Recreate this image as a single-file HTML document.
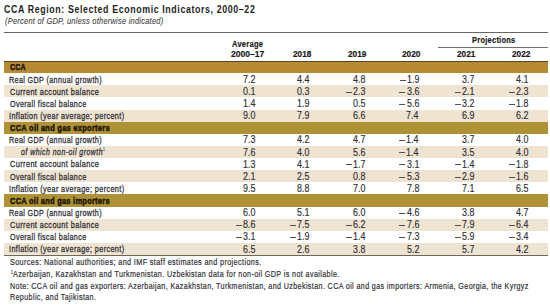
<!DOCTYPE html>
<html><head><meta charset="utf-8"><style>
html,body{margin:0;padding:0;background:#fff;width:550px;height:306px;overflow:hidden;position:relative}
.t{position:absolute;white-space:nowrap;line-height:1;font-family:"Liberation Sans",sans-serif;transform-origin:0 0}
.r{position:absolute}
</style></head><body>
<div class="t" style="left:4.35px;top:3.52px;font-size:11.2px;font-weight:bold;font-style:normal;color:#1e1e1e;letter-spacing:0.8px;-webkit-text-stroke:0px #1e1e1e;transform:scaleX(0.7861);">CCA Region: Selected Economic Indicators, 2000–22</div>
<div class="t" style="left:4.56px;top:16.27px;font-size:9.6px;font-weight:normal;font-style:italic;color:#3c3c3c;letter-spacing:0.3px;-webkit-text-stroke:0.1px #3c3c3c;transform:scaleX(0.7789);">(Percent of GDP, unless otherwise indicated)</div>
<div class="r" style="left:4px;top:32px;width:544px;height:1px;background:#666"></div>
<div class="t" style="left:232.06px;top:39.00px;font-size:9.8px;font-weight:bold;font-style:normal;color:#1a1a1a;letter-spacing:0.3px;-webkit-text-stroke:0.2px #1a1a1a;transform:scaleX(0.7716);">Average</div>
<div class="t" style="left:230.95px;top:49.40px;font-size:9.8px;font-weight:bold;font-style:normal;color:#1a1a1a;letter-spacing:0px;-webkit-text-stroke:0.2px #1a1a1a;transform:scaleX(0.8704);">2000–17</div>
<div class="t" style="left:293.31px;top:49.40px;font-size:9.8px;font-weight:bold;font-style:normal;color:#1a1a1a;letter-spacing:0px;-webkit-text-stroke:0.2px #1a1a1a;transform:scaleX(0.8409);">2018</div>
<div class="t" style="left:348.01px;top:49.40px;font-size:9.8px;font-weight:bold;font-style:normal;color:#1a1a1a;letter-spacing:0px;-webkit-text-stroke:0.2px #1a1a1a;transform:scaleX(0.8428);">2019</div>
<div class="t" style="left:402.31px;top:49.40px;font-size:9.8px;font-weight:bold;font-style:normal;color:#1a1a1a;letter-spacing:0px;-webkit-text-stroke:0.2px #1a1a1a;transform:scaleX(0.8448);">2020</div>
<div class="t" style="left:456.81px;top:49.40px;font-size:9.8px;font-weight:bold;font-style:normal;color:#1a1a1a;letter-spacing:0px;-webkit-text-stroke:0.2px #1a1a1a;transform:scaleX(0.8389);">2021</div>
<div class="t" style="left:512.01px;top:49.40px;font-size:9.8px;font-weight:bold;font-style:normal;color:#1a1a1a;letter-spacing:0px;-webkit-text-stroke:0.2px #1a1a1a;transform:scaleX(0.8448);">2022</div>
<div class="t" style="left:471.76px;top:34.90px;font-size:9.8px;font-weight:bold;font-style:normal;color:#1a1a1a;letter-spacing:0.3px;-webkit-text-stroke:0.2px #1a1a1a;transform:scaleX(0.7681);">Projections</div>
<div class="r" style="left:438px;top:47px;width:110px;height:1px;background:#707070"></div>
<div class="r" style="left:4px;top:61.0px;width:544px;height:12.125px;background:#b68b34"></div>
<div class="r" style="left:4px;top:61.0px;width:544px;height:1px;background:#554626"></div>
<div class="t" style="left:9.72px;top:62.40px;font-size:9.8px;font-weight:bold;font-style:normal;color:#1e1608;letter-spacing:0.3px;-webkit-text-stroke:0.5px #1e1608;transform:scaleX(0.7177);">CCA</div>
<div class="t" style="left:9.43px;top:74.53px;font-size:9.8px;font-weight:normal;font-style:normal;color:#303036;letter-spacing:0.5px;-webkit-text-stroke:0.3px #303036;transform:scaleX(0.7330);">Real GDP (annual growth)</div>
<div class="t" style="left:243.37px;top:74.86px;font-size:10.0px;font-weight:normal;font-style:normal;color:#303036;letter-spacing:0.0px;-webkit-text-stroke:0.15px #303036;transform:scaleX(0.8906);">7.2</div>
<div class="t" style="left:297.29px;top:74.86px;font-size:10.0px;font-weight:normal;font-style:normal;color:#303036;letter-spacing:0.0px;-webkit-text-stroke:0.15px #303036;transform:scaleX(0.8906);">4.4</div>
<div class="t" style="left:352.78px;top:74.86px;font-size:10.0px;font-weight:normal;font-style:normal;color:#303036;letter-spacing:0.0px;-webkit-text-stroke:0.15px #303036;transform:scaleX(0.8906);">4.8</div>
<div class="t" style="left:406.62px;top:74.86px;font-size:10.0px;font-weight:normal;font-style:normal;color:#303036;letter-spacing:0.0px;-webkit-text-stroke:0.15px #303036;transform:scaleX(0.8906);">1.9</div>
<div class="r" style="left:400px;top:80px;width:6px;height:1px;background:#505056"></div>
<div class="t" style="left:462.07px;top:74.86px;font-size:10.0px;font-weight:normal;font-style:normal;color:#303036;letter-spacing:0.0px;-webkit-text-stroke:0.15px #303036;transform:scaleX(0.8906);">3.7</div>
<div class="t" style="left:516.07px;top:74.86px;font-size:10.0px;font-weight:normal;font-style:normal;color:#303036;letter-spacing:0.0px;-webkit-text-stroke:0.15px #303036;transform:scaleX(0.8906);">4.1</div>
<div class="r" style="left:4px;top:85.25px;width:544px;height:12.125px;background:#efe4d2"></div>
<div class="t" style="left:9.63px;top:86.65px;font-size:9.8px;font-weight:normal;font-style:normal;color:#303036;letter-spacing:0.5px;-webkit-text-stroke:0.3px #303036;transform:scaleX(0.7549);">Current account balance</div>
<div class="t" style="left:243.37px;top:86.98px;font-size:10.0px;font-weight:normal;font-style:normal;color:#303036;letter-spacing:0.0px;-webkit-text-stroke:0.15px #303036;transform:scaleX(0.8906);">0.1</div>
<div class="t" style="left:297.42px;top:86.98px;font-size:10.0px;font-weight:normal;font-style:normal;color:#303036;letter-spacing:0.0px;-webkit-text-stroke:0.15px #303036;transform:scaleX(0.8906);">0.3</div>
<div class="t" style="left:352.82px;top:86.98px;font-size:10.0px;font-weight:normal;font-style:normal;color:#303036;letter-spacing:0.0px;-webkit-text-stroke:0.15px #303036;transform:scaleX(0.8906);">2.3</div>
<div class="r" style="left:346px;top:92px;width:6px;height:1px;background:#505056"></div>
<div class="t" style="left:406.62px;top:86.98px;font-size:10.0px;font-weight:normal;font-style:normal;color:#303036;letter-spacing:0.0px;-webkit-text-stroke:0.15px #303036;transform:scaleX(0.8906);">3.6</div>
<div class="r" style="left:399px;top:92px;width:6px;height:1px;background:#505056"></div>
<div class="t" style="left:462.07px;top:86.98px;font-size:10.0px;font-weight:normal;font-style:normal;color:#303036;letter-spacing:0.0px;-webkit-text-stroke:0.15px #303036;transform:scaleX(0.8906);">2.1</div>
<div class="r" style="left:455px;top:92px;width:6px;height:1px;background:#505056"></div>
<div class="t" style="left:516.02px;top:86.98px;font-size:10.0px;font-weight:normal;font-style:normal;color:#303036;letter-spacing:0.0px;-webkit-text-stroke:0.15px #303036;transform:scaleX(0.8906);">2.3</div>
<div class="r" style="left:509px;top:92px;width:6px;height:1px;background:#505056"></div>
<div class="t" style="left:9.68px;top:98.78px;font-size:9.8px;font-weight:normal;font-style:normal;color:#303036;letter-spacing:0.5px;-webkit-text-stroke:0.3px #303036;transform:scaleX(0.7356);">Overall fiscal balance</div>
<div class="t" style="left:243.19px;top:99.11px;font-size:10.0px;font-weight:normal;font-style:normal;color:#303036;letter-spacing:0.0px;-webkit-text-stroke:0.15px #303036;transform:scaleX(0.8906);">1.4</div>
<div class="t" style="left:297.42px;top:99.11px;font-size:10.0px;font-weight:normal;font-style:normal;color:#303036;letter-spacing:0.0px;-webkit-text-stroke:0.15px #303036;transform:scaleX(0.8906);">1.9</div>
<div class="t" style="left:352.78px;top:99.11px;font-size:10.0px;font-weight:normal;font-style:normal;color:#303036;letter-spacing:0.0px;-webkit-text-stroke:0.15px #303036;transform:scaleX(0.8906);">0.5</div>
<div class="t" style="left:406.62px;top:99.11px;font-size:10.0px;font-weight:normal;font-style:normal;color:#303036;letter-spacing:0.0px;-webkit-text-stroke:0.15px #303036;transform:scaleX(0.8906);">5.6</div>
<div class="r" style="left:399px;top:104px;width:6px;height:1px;background:#505056"></div>
<div class="t" style="left:462.07px;top:99.11px;font-size:10.0px;font-weight:normal;font-style:normal;color:#303036;letter-spacing:0.0px;-webkit-text-stroke:0.15px #303036;transform:scaleX(0.8906);">3.2</div>
<div class="r" style="left:455px;top:104px;width:6px;height:1px;background:#505056"></div>
<div class="t" style="left:515.98px;top:99.11px;font-size:10.0px;font-weight:normal;font-style:normal;color:#303036;letter-spacing:0.0px;-webkit-text-stroke:0.15px #303036;transform:scaleX(0.8906);">1.8</div>
<div class="r" style="left:509px;top:104px;width:6px;height:1px;background:#505056"></div>
<div class="r" style="left:4px;top:109.5px;width:544px;height:12.125px;background:#efe4d2"></div>
<div class="t" style="left:9.34px;top:110.90px;font-size:9.8px;font-weight:normal;font-style:normal;color:#303036;letter-spacing:0.5px;-webkit-text-stroke:0.3px #303036;transform:scaleX(0.7432);">Inflation (year average; percent)</div>
<div class="t" style="left:243.28px;top:111.23px;font-size:10.0px;font-weight:normal;font-style:normal;color:#303036;letter-spacing:0.0px;-webkit-text-stroke:0.15px #303036;transform:scaleX(0.8906);">9.0</div>
<div class="t" style="left:297.42px;top:111.23px;font-size:10.0px;font-weight:normal;font-style:normal;color:#303036;letter-spacing:0.0px;-webkit-text-stroke:0.15px #303036;transform:scaleX(0.8906);">7.9</div>
<div class="t" style="left:352.82px;top:111.23px;font-size:10.0px;font-weight:normal;font-style:normal;color:#303036;letter-spacing:0.0px;-webkit-text-stroke:0.15px #303036;transform:scaleX(0.8906);">6.6</div>
<div class="t" style="left:406.49px;top:111.23px;font-size:10.0px;font-weight:normal;font-style:normal;color:#303036;letter-spacing:0.0px;-webkit-text-stroke:0.15px #303036;transform:scaleX(0.8906);">7.4</div>
<div class="t" style="left:462.02px;top:111.23px;font-size:10.0px;font-weight:normal;font-style:normal;color:#303036;letter-spacing:0.0px;-webkit-text-stroke:0.15px #303036;transform:scaleX(0.8906);">6.9</div>
<div class="t" style="left:516.07px;top:111.23px;font-size:10.0px;font-weight:normal;font-style:normal;color:#303036;letter-spacing:0.0px;-webkit-text-stroke:0.15px #303036;transform:scaleX(0.8906);">6.2</div>
<div class="r" style="left:4px;top:121.625px;width:544px;height:12.125px;background:#af9236"></div>
<div class="t" style="left:9.70px;top:123.03px;font-size:9.8px;font-weight:bold;font-style:normal;color:#1e1608;letter-spacing:0.3px;-webkit-text-stroke:0.5px #1e1608;transform:scaleX(0.7700);">CCA oil and gas exporters</div>
<div class="t" style="left:9.43px;top:135.15px;font-size:9.8px;font-weight:normal;font-style:normal;color:#303036;letter-spacing:0.5px;-webkit-text-stroke:0.3px #303036;transform:scaleX(0.7330);">Real GDP (annual growth)</div>
<div class="t" style="left:243.32px;top:135.48px;font-size:10.0px;font-weight:normal;font-style:normal;color:#303036;letter-spacing:0.0px;-webkit-text-stroke:0.15px #303036;transform:scaleX(0.8906);">7.3</div>
<div class="t" style="left:297.47px;top:135.48px;font-size:10.0px;font-weight:normal;font-style:normal;color:#303036;letter-spacing:0.0px;-webkit-text-stroke:0.15px #303036;transform:scaleX(0.8906);">4.2</div>
<div class="t" style="left:352.87px;top:135.48px;font-size:10.0px;font-weight:normal;font-style:normal;color:#303036;letter-spacing:0.0px;-webkit-text-stroke:0.15px #303036;transform:scaleX(0.8906);">4.7</div>
<div class="t" style="left:406.49px;top:135.48px;font-size:10.0px;font-weight:normal;font-style:normal;color:#303036;letter-spacing:0.0px;-webkit-text-stroke:0.15px #303036;transform:scaleX(0.8906);">1.4</div>
<div class="r" style="left:399px;top:140px;width:6px;height:1px;background:#505056"></div>
<div class="t" style="left:462.07px;top:135.48px;font-size:10.0px;font-weight:normal;font-style:normal;color:#303036;letter-spacing:0.0px;-webkit-text-stroke:0.15px #303036;transform:scaleX(0.8906);">3.7</div>
<div class="t" style="left:515.98px;top:135.48px;font-size:10.0px;font-weight:normal;font-style:normal;color:#303036;letter-spacing:0.0px;-webkit-text-stroke:0.15px #303036;transform:scaleX(0.8906);">4.0</div>
<div class="r" style="left:4px;top:145.875px;width:544px;height:12.125px;background:#efe4d2"></div>
<div class="t" style="left:20.76px;top:147.28px;font-size:9.8px;font-weight:normal;font-style:italic;color:#303036;letter-spacing:0.65px;-webkit-text-stroke:0.3px #303036;transform:scaleX(0.7123);">of which non-oil growth</div>
<div class="t" style="left:103.06px;top:147.37px;font-size:5.2px;font-weight:normal;font-style:normal;color:#303036;letter-spacing:0px;-webkit-text-stroke:0.1px #303036;transform:scaleX(0.6261);">1</div>
<div class="t" style="left:243.32px;top:147.61px;font-size:10.0px;font-weight:normal;font-style:normal;color:#303036;letter-spacing:0.0px;-webkit-text-stroke:0.15px #303036;transform:scaleX(0.8906);">7.6</div>
<div class="t" style="left:297.38px;top:147.61px;font-size:10.0px;font-weight:normal;font-style:normal;color:#303036;letter-spacing:0.0px;-webkit-text-stroke:0.15px #303036;transform:scaleX(0.8906);">4.0</div>
<div class="t" style="left:352.82px;top:147.61px;font-size:10.0px;font-weight:normal;font-style:normal;color:#303036;letter-spacing:0.0px;-webkit-text-stroke:0.15px #303036;transform:scaleX(0.8906);">5.6</div>
<div class="t" style="left:406.49px;top:147.61px;font-size:10.0px;font-weight:normal;font-style:normal;color:#303036;letter-spacing:0.0px;-webkit-text-stroke:0.15px #303036;transform:scaleX(0.8906);">1.4</div>
<div class="r" style="left:399px;top:152px;width:6px;height:1px;background:#505056"></div>
<div class="t" style="left:461.98px;top:147.61px;font-size:10.0px;font-weight:normal;font-style:normal;color:#303036;letter-spacing:0.0px;-webkit-text-stroke:0.15px #303036;transform:scaleX(0.8906);">3.5</div>
<div class="t" style="left:515.98px;top:147.61px;font-size:10.0px;font-weight:normal;font-style:normal;color:#303036;letter-spacing:0.0px;-webkit-text-stroke:0.15px #303036;transform:scaleX(0.8906);">4.0</div>
<div class="t" style="left:9.63px;top:159.40px;font-size:9.8px;font-weight:normal;font-style:normal;color:#303036;letter-spacing:0.5px;-webkit-text-stroke:0.3px #303036;transform:scaleX(0.7549);">Current account balance</div>
<div class="t" style="left:243.32px;top:159.73px;font-size:10.0px;font-weight:normal;font-style:normal;color:#303036;letter-spacing:0.0px;-webkit-text-stroke:0.15px #303036;transform:scaleX(0.8906);">1.3</div>
<div class="t" style="left:297.47px;top:159.73px;font-size:10.0px;font-weight:normal;font-style:normal;color:#303036;letter-spacing:0.0px;-webkit-text-stroke:0.15px #303036;transform:scaleX(0.8906);">4.1</div>
<div class="t" style="left:352.87px;top:159.73px;font-size:10.0px;font-weight:normal;font-style:normal;color:#303036;letter-spacing:0.0px;-webkit-text-stroke:0.15px #303036;transform:scaleX(0.8906);">1.7</div>
<div class="r" style="left:346px;top:164px;width:6px;height:1px;background:#505056"></div>
<div class="t" style="left:406.67px;top:159.73px;font-size:10.0px;font-weight:normal;font-style:normal;color:#303036;letter-spacing:0.0px;-webkit-text-stroke:0.15px #303036;transform:scaleX(0.8906);">3.1</div>
<div class="r" style="left:399px;top:164px;width:6px;height:1px;background:#505056"></div>
<div class="t" style="left:461.89px;top:159.73px;font-size:10.0px;font-weight:normal;font-style:normal;color:#303036;letter-spacing:0.0px;-webkit-text-stroke:0.15px #303036;transform:scaleX(0.8906);">1.4</div>
<div class="r" style="left:455px;top:164px;width:6px;height:1px;background:#505056"></div>
<div class="t" style="left:515.98px;top:159.73px;font-size:10.0px;font-weight:normal;font-style:normal;color:#303036;letter-spacing:0.0px;-webkit-text-stroke:0.15px #303036;transform:scaleX(0.8906);">1.8</div>
<div class="r" style="left:509px;top:164px;width:6px;height:1px;background:#505056"></div>
<div class="r" style="left:4px;top:170.125px;width:544px;height:12.125px;background:#efe4d2"></div>
<div class="t" style="left:9.68px;top:171.53px;font-size:9.8px;font-weight:normal;font-style:normal;color:#303036;letter-spacing:0.5px;-webkit-text-stroke:0.3px #303036;transform:scaleX(0.7356);">Overall fiscal balance</div>
<div class="t" style="left:243.37px;top:171.86px;font-size:10.0px;font-weight:normal;font-style:normal;color:#303036;letter-spacing:0.0px;-webkit-text-stroke:0.15px #303036;transform:scaleX(0.8906);">2.1</div>
<div class="t" style="left:297.38px;top:171.86px;font-size:10.0px;font-weight:normal;font-style:normal;color:#303036;letter-spacing:0.0px;-webkit-text-stroke:0.15px #303036;transform:scaleX(0.8906);">2.5</div>
<div class="t" style="left:352.78px;top:171.86px;font-size:10.0px;font-weight:normal;font-style:normal;color:#303036;letter-spacing:0.0px;-webkit-text-stroke:0.15px #303036;transform:scaleX(0.8906);">0.8</div>
<div class="t" style="left:406.62px;top:171.86px;font-size:10.0px;font-weight:normal;font-style:normal;color:#303036;letter-spacing:0.0px;-webkit-text-stroke:0.15px #303036;transform:scaleX(0.8906);">5.3</div>
<div class="r" style="left:399px;top:177px;width:6px;height:1px;background:#505056"></div>
<div class="t" style="left:462.02px;top:171.86px;font-size:10.0px;font-weight:normal;font-style:normal;color:#303036;letter-spacing:0.0px;-webkit-text-stroke:0.15px #303036;transform:scaleX(0.8906);">2.9</div>
<div class="r" style="left:455px;top:177px;width:6px;height:1px;background:#505056"></div>
<div class="t" style="left:516.02px;top:171.86px;font-size:10.0px;font-weight:normal;font-style:normal;color:#303036;letter-spacing:0.0px;-webkit-text-stroke:0.15px #303036;transform:scaleX(0.8906);">1.6</div>
<div class="r" style="left:509px;top:177px;width:6px;height:1px;background:#505056"></div>
<div class="t" style="left:9.34px;top:183.65px;font-size:9.8px;font-weight:normal;font-style:normal;color:#303036;letter-spacing:0.5px;-webkit-text-stroke:0.3px #303036;transform:scaleX(0.7432);">Inflation (year average; percent)</div>
<div class="t" style="left:243.28px;top:183.98px;font-size:10.0px;font-weight:normal;font-style:normal;color:#303036;letter-spacing:0.0px;-webkit-text-stroke:0.15px #303036;transform:scaleX(0.8906);">9.5</div>
<div class="t" style="left:297.38px;top:183.98px;font-size:10.0px;font-weight:normal;font-style:normal;color:#303036;letter-spacing:0.0px;-webkit-text-stroke:0.15px #303036;transform:scaleX(0.8906);">8.8</div>
<div class="t" style="left:352.78px;top:183.98px;font-size:10.0px;font-weight:normal;font-style:normal;color:#303036;letter-spacing:0.0px;-webkit-text-stroke:0.15px #303036;transform:scaleX(0.8906);">7.0</div>
<div class="t" style="left:406.58px;top:183.98px;font-size:10.0px;font-weight:normal;font-style:normal;color:#303036;letter-spacing:0.0px;-webkit-text-stroke:0.15px #303036;transform:scaleX(0.8906);">7.8</div>
<div class="t" style="left:462.07px;top:183.98px;font-size:10.0px;font-weight:normal;font-style:normal;color:#303036;letter-spacing:0.0px;-webkit-text-stroke:0.15px #303036;transform:scaleX(0.8906);">7.1</div>
<div class="t" style="left:515.98px;top:183.98px;font-size:10.0px;font-weight:normal;font-style:normal;color:#303036;letter-spacing:0.0px;-webkit-text-stroke:0.15px #303036;transform:scaleX(0.8906);">6.5</div>
<div class="r" style="left:4px;top:194.375px;width:544px;height:12.125px;background:#af9236"></div>
<div class="t" style="left:9.70px;top:195.78px;font-size:9.8px;font-weight:bold;font-style:normal;color:#1e1608;letter-spacing:0.3px;-webkit-text-stroke:0.5px #1e1608;transform:scaleX(0.7668);">CCA oil and gas importers</div>
<div class="t" style="left:9.43px;top:207.90px;font-size:9.8px;font-weight:normal;font-style:normal;color:#303036;letter-spacing:0.5px;-webkit-text-stroke:0.3px #303036;transform:scaleX(0.7330);">Real GDP (annual growth)</div>
<div class="t" style="left:243.28px;top:208.23px;font-size:10.0px;font-weight:normal;font-style:normal;color:#303036;letter-spacing:0.0px;-webkit-text-stroke:0.15px #303036;transform:scaleX(0.8906);">6.0</div>
<div class="t" style="left:297.47px;top:208.23px;font-size:10.0px;font-weight:normal;font-style:normal;color:#303036;letter-spacing:0.0px;-webkit-text-stroke:0.15px #303036;transform:scaleX(0.8906);">5.1</div>
<div class="t" style="left:352.78px;top:208.23px;font-size:10.0px;font-weight:normal;font-style:normal;color:#303036;letter-spacing:0.0px;-webkit-text-stroke:0.15px #303036;transform:scaleX(0.8906);">6.0</div>
<div class="t" style="left:406.62px;top:208.23px;font-size:10.0px;font-weight:normal;font-style:normal;color:#303036;letter-spacing:0.0px;-webkit-text-stroke:0.15px #303036;transform:scaleX(0.8906);">4.6</div>
<div class="r" style="left:399px;top:213px;width:6px;height:1px;background:#505056"></div>
<div class="t" style="left:461.98px;top:208.23px;font-size:10.0px;font-weight:normal;font-style:normal;color:#303036;letter-spacing:0.0px;-webkit-text-stroke:0.15px #303036;transform:scaleX(0.8906);">3.8</div>
<div class="t" style="left:516.07px;top:208.23px;font-size:10.0px;font-weight:normal;font-style:normal;color:#303036;letter-spacing:0.0px;-webkit-text-stroke:0.15px #303036;transform:scaleX(0.8906);">4.7</div>
<div class="r" style="left:4px;top:218.625px;width:544px;height:12.125px;background:#efe4d2"></div>
<div class="t" style="left:9.63px;top:220.03px;font-size:9.8px;font-weight:normal;font-style:normal;color:#303036;letter-spacing:0.5px;-webkit-text-stroke:0.3px #303036;transform:scaleX(0.7549);">Current account balance</div>
<div class="t" style="left:243.32px;top:220.36px;font-size:10.0px;font-weight:normal;font-style:normal;color:#303036;letter-spacing:0.0px;-webkit-text-stroke:0.15px #303036;transform:scaleX(0.8906);">8.6</div>
<div class="r" style="left:236px;top:225px;width:6px;height:1px;background:#505056"></div>
<div class="t" style="left:297.38px;top:220.36px;font-size:10.0px;font-weight:normal;font-style:normal;color:#303036;letter-spacing:0.0px;-webkit-text-stroke:0.15px #303036;transform:scaleX(0.8906);">7.5</div>
<div class="r" style="left:290px;top:225px;width:6px;height:1px;background:#505056"></div>
<div class="t" style="left:352.87px;top:220.36px;font-size:10.0px;font-weight:normal;font-style:normal;color:#303036;letter-spacing:0.0px;-webkit-text-stroke:0.15px #303036;transform:scaleX(0.8906);">6.2</div>
<div class="r" style="left:346px;top:225px;width:6px;height:1px;background:#505056"></div>
<div class="t" style="left:406.62px;top:220.36px;font-size:10.0px;font-weight:normal;font-style:normal;color:#303036;letter-spacing:0.0px;-webkit-text-stroke:0.15px #303036;transform:scaleX(0.8906);">7.6</div>
<div class="r" style="left:399px;top:225px;width:6px;height:1px;background:#505056"></div>
<div class="t" style="left:462.02px;top:220.36px;font-size:10.0px;font-weight:normal;font-style:normal;color:#303036;letter-spacing:0.0px;-webkit-text-stroke:0.15px #303036;transform:scaleX(0.8906);">7.9</div>
<div class="r" style="left:455px;top:225px;width:6px;height:1px;background:#505056"></div>
<div class="t" style="left:515.89px;top:220.36px;font-size:10.0px;font-weight:normal;font-style:normal;color:#303036;letter-spacing:0.0px;-webkit-text-stroke:0.15px #303036;transform:scaleX(0.8906);">6.4</div>
<div class="r" style="left:509px;top:225px;width:6px;height:1px;background:#505056"></div>
<div class="t" style="left:9.68px;top:232.15px;font-size:9.8px;font-weight:normal;font-style:normal;color:#303036;letter-spacing:0.5px;-webkit-text-stroke:0.3px #303036;transform:scaleX(0.7356);">Overall fiscal balance</div>
<div class="t" style="left:243.37px;top:232.48px;font-size:10.0px;font-weight:normal;font-style:normal;color:#303036;letter-spacing:0.0px;-webkit-text-stroke:0.15px #303036;transform:scaleX(0.8906);">3.1</div>
<div class="r" style="left:236px;top:237px;width:6px;height:1px;background:#505056"></div>
<div class="t" style="left:297.42px;top:232.48px;font-size:10.0px;font-weight:normal;font-style:normal;color:#303036;letter-spacing:0.0px;-webkit-text-stroke:0.15px #303036;transform:scaleX(0.8906);">1.9</div>
<div class="r" style="left:290px;top:237px;width:6px;height:1px;background:#505056"></div>
<div class="t" style="left:352.69px;top:232.48px;font-size:10.0px;font-weight:normal;font-style:normal;color:#303036;letter-spacing:0.0px;-webkit-text-stroke:0.15px #303036;transform:scaleX(0.8906);">1.4</div>
<div class="r" style="left:346px;top:237px;width:6px;height:1px;background:#505056"></div>
<div class="t" style="left:406.62px;top:232.48px;font-size:10.0px;font-weight:normal;font-style:normal;color:#303036;letter-spacing:0.0px;-webkit-text-stroke:0.15px #303036;transform:scaleX(0.8906);">7.3</div>
<div class="r" style="left:399px;top:237px;width:6px;height:1px;background:#505056"></div>
<div class="t" style="left:462.02px;top:232.48px;font-size:10.0px;font-weight:normal;font-style:normal;color:#303036;letter-spacing:0.0px;-webkit-text-stroke:0.15px #303036;transform:scaleX(0.8906);">5.9</div>
<div class="r" style="left:455px;top:237px;width:6px;height:1px;background:#505056"></div>
<div class="t" style="left:515.89px;top:232.48px;font-size:10.0px;font-weight:normal;font-style:normal;color:#303036;letter-spacing:0.0px;-webkit-text-stroke:0.15px #303036;transform:scaleX(0.8906);">3.4</div>
<div class="r" style="left:509px;top:237px;width:6px;height:1px;background:#505056"></div>
<div class="r" style="left:4px;top:242.875px;width:544px;height:12.125px;background:#efe4d2"></div>
<div class="t" style="left:9.34px;top:244.28px;font-size:9.8px;font-weight:normal;font-style:normal;color:#303036;letter-spacing:0.5px;-webkit-text-stroke:0.3px #303036;transform:scaleX(0.7432);">Inflation (year average; percent)</div>
<div class="t" style="left:243.28px;top:244.61px;font-size:10.0px;font-weight:normal;font-style:normal;color:#303036;letter-spacing:0.0px;-webkit-text-stroke:0.15px #303036;transform:scaleX(0.8906);">6.5</div>
<div class="t" style="left:297.42px;top:244.61px;font-size:10.0px;font-weight:normal;font-style:normal;color:#303036;letter-spacing:0.0px;-webkit-text-stroke:0.15px #303036;transform:scaleX(0.8906);">2.6</div>
<div class="t" style="left:352.78px;top:244.61px;font-size:10.0px;font-weight:normal;font-style:normal;color:#303036;letter-spacing:0.0px;-webkit-text-stroke:0.15px #303036;transform:scaleX(0.8906);">3.8</div>
<div class="t" style="left:406.67px;top:244.61px;font-size:10.0px;font-weight:normal;font-style:normal;color:#303036;letter-spacing:0.0px;-webkit-text-stroke:0.15px #303036;transform:scaleX(0.8906);">5.2</div>
<div class="t" style="left:462.07px;top:244.61px;font-size:10.0px;font-weight:normal;font-style:normal;color:#303036;letter-spacing:0.0px;-webkit-text-stroke:0.15px #303036;transform:scaleX(0.8906);">5.7</div>
<div class="t" style="left:516.07px;top:244.61px;font-size:10.0px;font-weight:normal;font-style:normal;color:#303036;letter-spacing:0.0px;-webkit-text-stroke:0.15px #303036;transform:scaleX(0.8906);">4.2</div>
<div class="r" style="left:4px;top:255px;width:544px;height:1px;background:#6e665e"></div>
<div class="t" style="left:9.88px;top:257.71px;font-size:9.2px;font-weight:normal;font-style:normal;color:#303036;letter-spacing:0.5px;-webkit-text-stroke:0.2px #303036;transform:scaleX(0.7842);">Sources: National authorities; and IMF staff estimates and projections.</div>
<div class="t" style="left:10.74px;top:270.20px;font-size:5.2px;font-weight:normal;font-style:normal;color:#303036;letter-spacing:0px;-webkit-text-stroke:0.15px #303036;transform:scaleX(0.6708);">1</div>
<div class="t" style="left:12.86px;top:270.01px;font-size:9.2px;font-weight:normal;font-style:normal;color:#303036;letter-spacing:0.5px;-webkit-text-stroke:0.2px #303036;transform:scaleX(0.7784);">Azerbaijan, Kazakhstan and Turkmenistan. Uzbekistan data for non-oil GDP is not available.</div>
<div class="t" style="left:9.63px;top:281.51px;font-size:9.2px;font-weight:normal;font-style:normal;color:#303036;letter-spacing:0.5px;-webkit-text-stroke:0.2px #303036;transform:scaleX(0.7753);">Note: CCA oil and gas exporters: Azerbaijan, Kazakhstan, Turkmenistan, and Uzbekistan. CCA oil and gas importers: Armenia, Georgia, the Kyrgyz</div>
<div class="t" style="left:9.63px;top:293.11px;font-size:9.2px;font-weight:normal;font-style:normal;color:#303036;letter-spacing:0.5px;-webkit-text-stroke:0.2px #303036;transform:scaleX(0.7746);">Republic, and Tajikistan.</div>
</body></html>
